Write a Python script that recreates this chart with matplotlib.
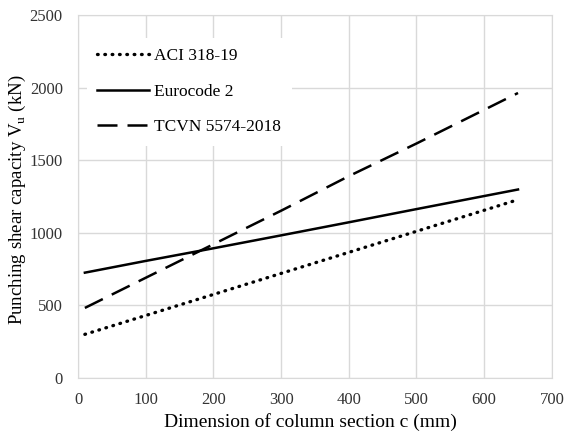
import matplotlib
matplotlib.use("Agg")
import matplotlib.pyplot as plt

plt.rcParams['font.family'] = ['Liberation Serif', 'DejaVu Serif']
plt.rcParams['mathtext.fontset'] = 'custom'
plt.rcParams['mathtext.rm'] = 'Liberation Serif'

# column section c (mm) and punching shear capacity (kN)
c = [10, 100, 200, 300, 400, 500, 600, 650]
aci = [300, 430, 575, 720, 865, 1010, 1155, 1228]
ec2 = [725, 806, 893, 982, 1072, 1163, 1253, 1298]
tcvn = [482, 690, 921, 1152, 1390, 1615, 1847, 1963]

fig = plt.figure(figsize=(5.66, 4.43), dpi=100)
ax = fig.add_axes([0.138, 0.147, 0.837, 0.819])

ax.plot(c, aci, color='black', lw=2.4, linestyle=(0, (0.2, 2.0)),
        dash_capstyle='round', label='ACI 318-19')
ax.plot(c, ec2, color='black', lw=1.8, label='Eurocode 2')
ax.plot(c, tcvn, color='black', lw=1.8, linestyle=(0, (8, 4)), label='TCVN 5574-2018')

ax.set_xlim(0, 700)
ax.set_ylim(0, 2500)
ax.set_xticks(range(0, 701, 100))
ax.set_yticks(range(0, 2501, 500))
ax.grid(color='#d9d9d9', lw=1)
ax.set_axisbelow(True)
for s in ax.spines.values():
    s.set_color('#d9d9d9')
ax.tick_params(length=0, labelsize=12, colors='#333333')
ax.tick_params(axis='x', pad=10)
ax.tick_params(axis='y', pad=11)

ax.set_xlabel('Dimension of column section c (mm)', fontsize=14)
ax.set_ylabel(r'Punching shear capacity V$_\mathregular{u}$ (kN)', fontsize=13.6)
ax.xaxis.set_label_coords(0.49, -0.098)
ax.yaxis.set_label_coords(-0.106, 0.49)

leg = ax.legend(loc='upper left', bbox_to_anchor=(0.0, 0.962), fontsize=12.5,
                handlelength=3.0, handletextpad=0.3, labelspacing=1.12,
                frameon=True, fancybox=False, edgecolor='none', facecolor='white',
                framealpha=1, borderpad=0.6)

fig.savefig('out.png', dpi=100)
